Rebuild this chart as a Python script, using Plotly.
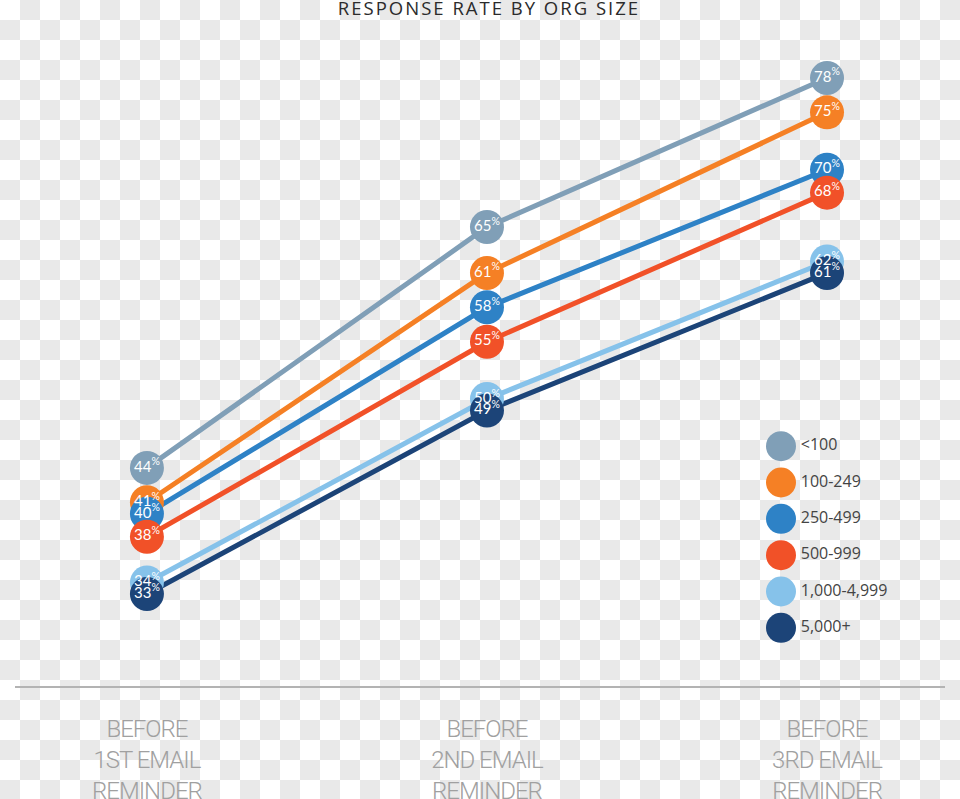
import plotly.graph_objects as go

# ---------------- data ----------------
stages = ["BEFORE<br>1ST EMAIL<br>REMINDER",
          "BEFORE<br>2ND EMAIL<br>REMINDER",
          "BEFORE<br>3RD EMAIL<br>REMINDER"]
groups = ["<100", "100-249", "250-499", "500-999", "1,000-4,999", "5,000+"]
rate_lt100 = [44, 65, 78]
rate_100_249 = [41, 61, 75]
rate_250_499 = [40, 58, 70]
rate_500_999 = [38, 55, 68]
rate_1000_4999 = [34, 50, 62]
rate_5000_plus = [33, 49, 61]
series = [rate_lt100, rate_100_249, rate_250_499, rate_500_999, rate_1000_4999, rate_5000_plus]
colors = ["#809fb7", "#f58025", "#2e82c6", "#f15128", "#86c2ea", "#1c4478"]
title = "RESPONSE RATE BY ORG SIZE"

W, H = 960, 799
PL, PR, PT, PB = 15, 945, 40, 686

fig = go.Figure()

# ---- checkerboard (transparency) backdrop on its own full-figure axes ----
cell = 20
bx, by = [], []
for r in range(H // cell + 1):
    for c in range(W // cell + 1):
        if (r + c) % 2 == 1:
            bx.append(c * cell + cell / 2)
            by.append(r * cell + cell / 2)
fig.add_trace(go.Scatter(x=bx, y=by, mode="markers",
                         marker=dict(symbol="square", size=cell, color="#e9e9e9",
                                     line=dict(width=0)),
                         xaxis="x", yaxis="y", showlegend=False, hoverinfo="skip",
                         cliponaxis=False))

# lines first
for name, vals, col in zip(groups, series, colors):
    fig.add_trace(go.Scatter(x=stages, y=vals, mode="lines",
                             line=dict(color=col, width=5),
                             xaxis="x2", yaxis="y2",
                             showlegend=False, hoverinfo="skip"))
# circles
for name, vals, col in zip(groups, series, colors):
    fig.add_trace(go.Scatter(x=stages, y=vals, mode="markers", name=name,
                             marker=dict(color=col, size=34, line=dict(width=0)),
                             xaxis="x2", yaxis="y2",
                             showlegend=False, cliponaxis=False))
# value labels on top
for name, vals, col in zip(groups, series, colors):
    fig.add_trace(go.Scatter(x=stages, y=vals, mode="text",
                             text=[f"{v}<sup>%</sup>" for v in vals],
                             textposition="middle center",
                             textfont=dict(family="Lato", size=15, color="white"),
                             xaxis="x2", yaxis="y2",
                             showlegend=False, cliponaxis=False, hoverinfo="skip"))

# custom legend (large circles) on its own axes
fig.add_trace(go.Scatter(x=[0] * len(groups), y=groups, mode="markers+text",
                         text=groups, textposition="middle right",
                         textfont=dict(family="Open Sans", size=16, color="#444444"),
                         marker=dict(color=colors, size=30, line=dict(width=0)),
                         xaxis="x3", yaxis="y3", showlegend=False, cliponaxis=False,
                         hoverinfo="skip"))

fig.update_layout(
    width=W, height=H,
    margin=dict(l=0, r=0, t=0, b=0, pad=0, autoexpand=False),
    paper_bgcolor="white", plot_bgcolor="rgba(0,0,0,0)",
    title=dict(text=f"<span style='letter-spacing:2px'>{title}</span>",
               x=489 / W, xanchor="center", xref="container",
               y=1 - 9 / H, yanchor="middle", yref="container",
               font=dict(family="Open Sans", size=18.5, color="#2b2b2b")),
    # backdrop axes
    xaxis=dict(domain=[0, 1], range=[0, W], visible=False, fixedrange=True),
    yaxis=dict(domain=[0, 1], range=[H, 0], visible=False, fixedrange=True),
    # main chart axes
    xaxis2=dict(domain=[PL / W, PR / W], anchor="y2", type="category",
                range=[-0.388, 2.347], showgrid=False, zeroline=False,
                showline=True, linecolor="#b3b3b3", linewidth=2, ticks="",
                automargin=False, tickvals=stages,
                ticktext=[f"<span style='letter-spacing:-1px'>{s}</span>" for s in stages],
                tickfont=dict(family="Roboto", size=24, color="#a0a0a0", weight=300),
                ticklabelstandoff=20, fixedrange=True),
    yaxis2=dict(domain=[(H - PB) / H, (H - PT) / H], anchor="x2",
                range=[24.98, 81.31], visible=False, showgrid=False, zeroline=False,
                automargin=False),
    # legend axes
    xaxis3=dict(domain=[781 / W, 950 / W], range=[0, 1], visible=False, anchor="y3"),
    yaxis3=dict(domain=[(H - 646) / H, (H - 428) / H], anchor="x3", type="category",
                categoryorder="array", categoryarray=list(reversed(groups)),
                range=[-0.5, len(groups) - 0.5], visible=False),
    showlegend=False,
)

fig.write_html("out.html")
